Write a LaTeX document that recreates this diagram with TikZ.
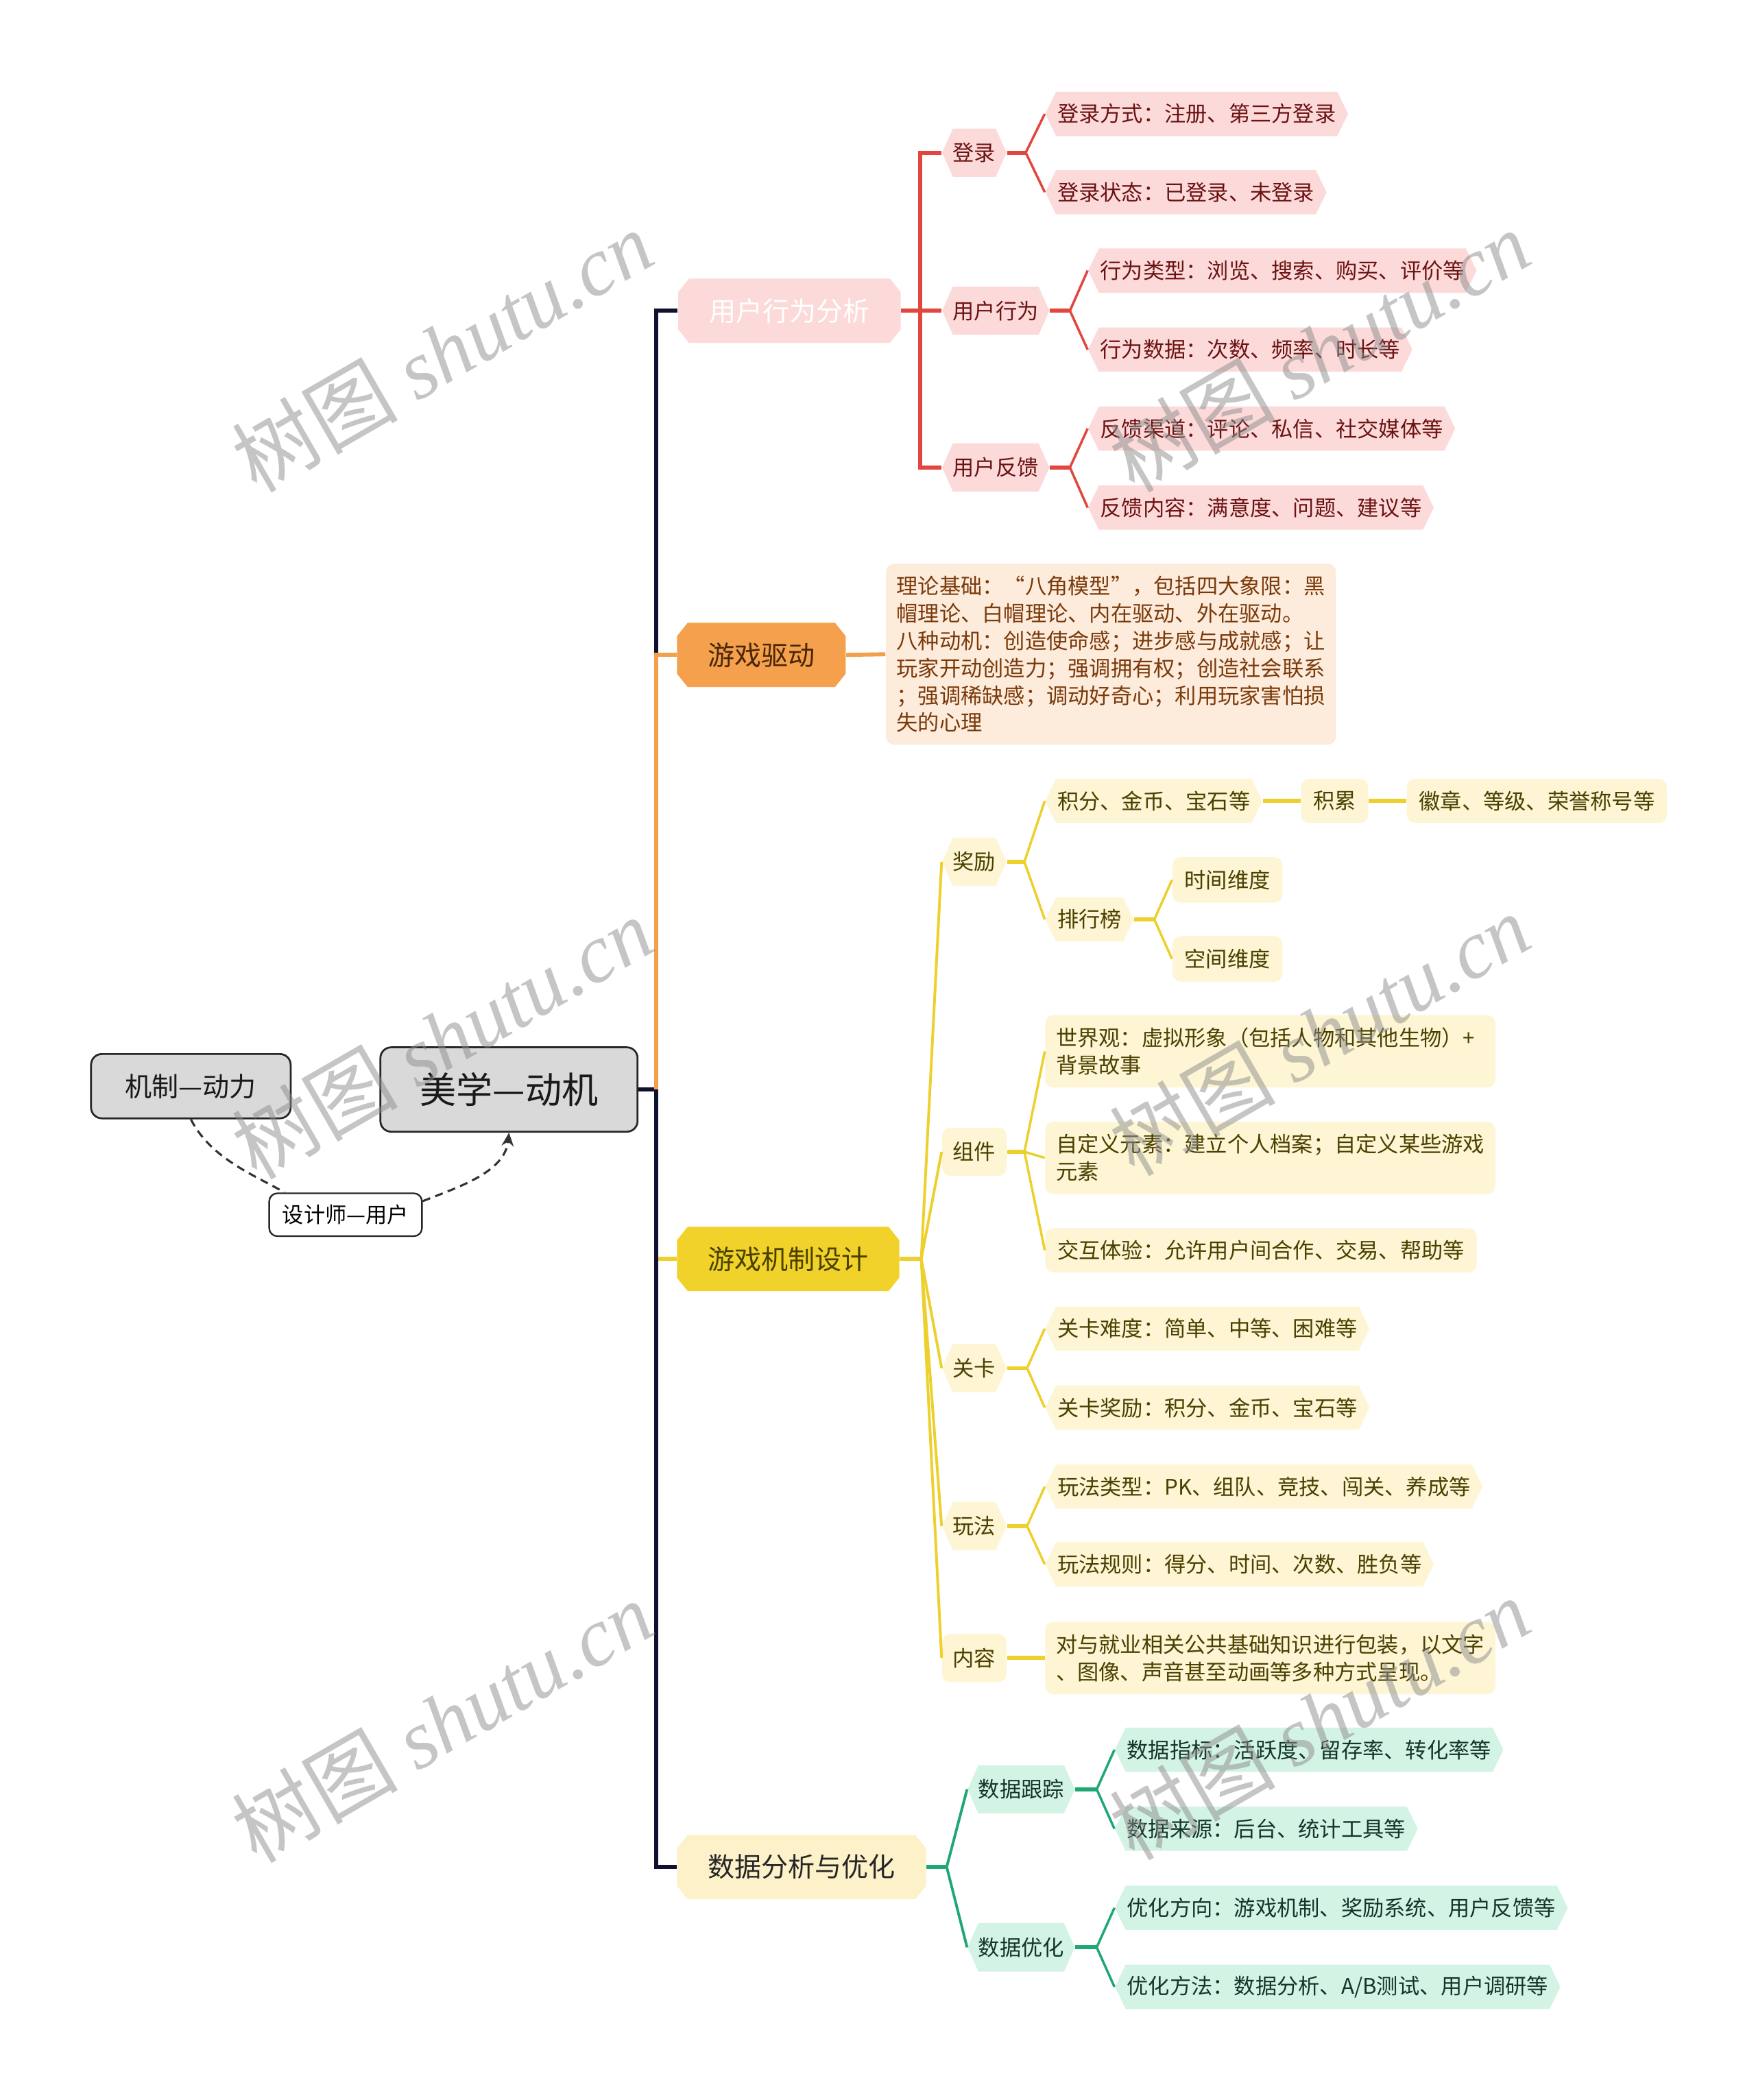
\documentclass[tikz,border=0pt]{standalone}
\usepackage{fontspec}
\setmainfont{Noto Sans CJK SC}
\newfontfamily\wmfont{Liberation Serif}
\usetikzlibrary{arrows.meta}
\definecolor{navy}{HTML}{10112E}
\definecolor{redL}{HTML}{E2473F}
\definecolor{redF}{HTML}{FCDADA}
\definecolor{redT}{HTML}{6B1212}
\definecolor{orL}{HTML}{F2A04B}
\definecolor{orF}{HTML}{F4A04C}
\definecolor{orB}{HTML}{FDEBDC}
\definecolor{orT}{HTML}{7A3A0A}
\definecolor{orTT}{HTML}{4A2608}
\definecolor{yeL}{HTML}{EDD02C}
\definecolor{yeF}{HTML}{F1D22A}
\definecolor{yeB}{HTML}{FDF5D4}
\definecolor{yeT}{HTML}{4A4000}
\definecolor{grL}{HTML}{1FA874}
\definecolor{grF}{HTML}{D3F3E5}
\definecolor{grT}{HTML}{14352A}
\definecolor{daF}{HTML}{FDF1C9}
\definecolor{rootF}{HTML}{D9D9D9}
\definecolor{dashC}{HTML}{333333}
\tikzset{
 hexfill/.style={path picture={\fill[#1] (path picture bounding box.west) -- ([xshift=4pt]path picture bounding box.north west) -- ([xshift=-4pt]path picture bounding box.north east) -- (path picture bounding box.east) -- ([xshift=-4pt]path picture bounding box.south east) -- ([xshift=4pt]path picture bounding box.south west) -- cycle;}},
 octfill/.style={path picture={\fill[#1] ([yshift=-5pt]path picture bounding box.north west) -- ([xshift=4pt]path picture bounding box.north west) -- ([xshift=-4pt]path picture bounding box.north east) -- ([yshift=-5pt]path picture bounding box.north east) -- ([yshift=5pt]path picture bounding box.south east) -- ([xshift=-4pt]path picture bounding box.south east) -- ([xshift=4pt]path picture bounding box.south west) -- ([yshift=5pt]path picture bounding box.south west) -- cycle;}},
 smallfont/.style={font=\fontsize{8pt}{10.2pt}\selectfont},
 leaf/.style={smallfont, inner ysep=0pt, inner xsep=4.5pt, minimum height=16.5pt, anchor=west},
 lvtwo/.style={smallfont, inner ysep=0pt, inner xsep=4pt, minimum height=18pt, anchor=west},
 lvone/.style={font=\fontsize{10pt}{12pt}\selectfont, inner ysep=0pt, inner xsep=11.5pt, minimum height=24pt, anchor=west},
 rndfill/.style={fill=#1, rounded corners=3pt},
 multi/.style={smallfont, inner xsep=4pt, inner ysep=0pt, text width=160pt, align=left, minimum height=27pt, anchor=west},
 rootbox/.style={draw=black!85, fill=rootF, rounded corners=4pt, line width=0.7pt, inner sep=0pt, text=black!90},
 stub/.style={line width=1.5pt},
 twig/.style={line width=0.9pt},
 dashline/.style={draw=dashC, dashed, dash pattern=on 3pt off 2pt, line width=0.8pt},
 wm/.style={rotate=30, text=black!45, text opacity=0.5, font=\fontsize{31pt}{34pt}\selectfont},
}
\begin{document}
\begin{tikzpicture}[x=0.5pt,y=-0.5pt]
\fill[white] (0,0) rectangle (1311,1568);
\useasboundingbox (0,0) rectangle (1311,1568);

% root and side
\node[rootbox, minimum width=96pt, minimum height=31.5pt, font=\fontsize{13.6pt}{16pt}\selectfont] (root) at (380,813.5) {美学—动机};
\node[rootbox, minimum width=74.5pt, minimum height=24pt, font=\fontsize{10pt}{12pt}\selectfont] (jz) at (142.5,811) {机制—动力};
\node[draw=black!85, fill=white, rounded corners=3pt, line width=0.6pt, inner sep=0pt, minimum width=57pt, minimum height=16pt, smallfont] (sj) at (258,907) {设计师—用户};

% level one
\node[lvone, octfill=redF, text=white] (ua) at (506,232) {用户行为分析};
\node[lvone, octfill=orF, text=orTT] (gd) at (505,489) {游戏驱动};
\node[lvone, octfill=yeF, text=yeT] (gm) at (505,940) {游戏机制设计};
\node[lvone, octfill=daF, text=black!85] (da) at (505,1394) {数据分析与优化};

% red branch
\node[lvtwo, hexfill=redF, text=redT] (dl) at (703,114) {登录};
\node[lvtwo, hexfill=redF, text=redT] (yx) at (703,232) {用户行为};
\node[lvtwo, hexfill=redF, text=redT] (fk) at (703,349) {用户反馈};
\node[leaf, hexfill=redF, text=redT] (dl1) at (780,85) {登录方式：注册、第三方登录};
\node[leaf, hexfill=redF, text=redT] (dl2) at (780,143.5) {登录状态：已登录、未登录};
\node[leaf, hexfill=redF, text=redT] (yx1) at (812,202) {行为类型：浏览、搜索、购买、评价等};
\node[leaf, hexfill=redF, text=redT] (yx2) at (812,261) {行为数据：次数、频率、时长等};
\node[leaf, hexfill=redF, text=redT] (fk1) at (812,320) {反馈渠道：评论、私信、社交媒体等};
\node[leaf, hexfill=redF, text=redT] (fk2) at (812,379) {反馈内容：满意度、问题、建议等};

% orange branch
\node[smallfont, rndfill=orB, text=orT, inner xsep=4pt, inner ysep=0pt, text width=160pt, align=left, minimum height=67.5pt, anchor=west] (gdt) at (661,488.5) {理论基础：“八角模型”，包括四大象限：黑\\帽理论、白帽理论、内在驱动、外在驱动。\\八种动机：创造使命感；进步感与成就感；让\\玩家开动创造力；强调拥有权；创造社会联系\\；强调稀缺感；调动好奇心；利用玩家害怕损\\失的心理};

% yellow branch
\node[lvtwo, hexfill=yeB, text=yeT] (jl) at (703,643.5) {奖励};
\node[leaf, hexfill=yeB, text=yeT] (jl1) at (780,598) {积分、金币、宝石等};
\node[leaf, rndfill=yeB, text=yeT] (jla) at (971,598) {积累};
\node[leaf, rndfill=yeB, text=yeT] (jlb) at (1050,598) {徽章、等级、荣誉称号等};
\node[leaf, hexfill=yeB, text=yeT] (ph) at (780,686.5) {排行榜};
\node[leaf, rndfill=yeB, text=yeT, minimum height=17pt] (ph1) at (875,657) {时间维度};
\node[leaf, rndfill=yeB, text=yeT, minimum height=17pt] (ph2) at (875,716) {空间维度};
\node[lvtwo, rndfill=yeB, text=yeT] (zj) at (703,860) {组件};
\node[multi, rndfill=yeB, text=yeT] (zj1) at (780,785) {世界观：虚拟形象（包括人物和其他生物）+\\背景故事};
\node[multi, rndfill=yeB, text=yeT] (zj2) at (780,864.5) {自定义元素：建立个人档案；自定义某些游戏\\元素};
\node[leaf, rndfill=yeB, text=yeT] (zj3) at (780,933.5) {交互体验：允许用户间合作、交易、帮助等};
\node[lvtwo, hexfill=yeB, text=yeT] (gk) at (703,1021.5) {关卡};
\node[leaf, hexfill=yeB, text=yeT] (gk1) at (780,992) {关卡难度：简单、中等、困难等};
\node[leaf, hexfill=yeB, text=yeT] (gk2) at (780,1051) {关卡奖励：积分、金币、宝石等};
\node[lvtwo, hexfill=yeB, text=yeT] (wf) at (703,1139.5) {玩法};
\node[leaf, hexfill=yeB, text=yeT] (wf1) at (780,1110) {玩法类型：PK、组队、竞技、闯关、养成等};
\node[leaf, hexfill=yeB, text=yeT] (wf2) at (780,1168) {玩法规则：得分、时间、次数、胜负等};
\node[lvtwo, rndfill=yeB, text=yeT] (nr) at (703,1238) {内容};
\node[multi, rndfill=yeB, text=yeT] (nr1) at (780,1238) {对与就业相关公共基础知识进行包装，以文字\\、图像、声音甚至动画等多种方式呈现。};

% green branch
\node[lvtwo, hexfill=grF, text=grT] (dt) at (722,1336) {数据跟踪};
\node[lvtwo, hexfill=grF, text=grT] (dy) at (722,1454) {数据优化};
\node[leaf, hexfill=grF, text=grT] (dt1) at (832,1306.5) {数据指标：活跃度、留存率、转化率等};
\node[leaf, hexfill=grF, text=grT] (dt2) at (832,1365.5) {数据来源：后台、统计工具等};
\node[leaf, hexfill=grF, text=grT] (dy1) at (832,1424.5) {优化方向：游戏机制、奖励系统、用户反馈等};
\node[leaf, hexfill=grF, text=grT] (dy2) at (832,1483.5) {优化方法：数据分析、A/B测试、用户调研等};

% trunk
\coordinate (tr) at (490,813.5);
\draw[yeL, stub] (tr) |- (gm.west);
\draw[navy, stub] (tr) |- (da.west);
\draw[navy, stub] (root.east) -- (tr);
\draw[navy, stub] (tr) |- (ua.west);
\draw[orL, stub] (tr) |- (gd.west);

% red connectors
\coordinate (rj) at (687,232);
\draw[redL, stub] (ua.east) -- (rj);
\draw[redL, stub] (rj) |- (dl.west);
\draw[redL, stub] (rj) |- (fk.west);
\draw[redL, stub] (rj) -- (yx.west);
\draw[redL, stub] (dl.east) -- ++(14,0) coordinate (dlj);
\draw[redL, twig] (dlj) -- (dl1.west);
\draw[redL, twig] (dlj) -- (dl2.west);
\draw[redL, stub] (yx.east) -- ++(15,0) coordinate (yxj);
\draw[redL, twig] (yxj) -- (yx1.west);
\draw[redL, twig] (yxj) -- (yx2.west);
\draw[redL, stub] (fk.east) -- ++(15,0) coordinate (fkj);
\draw[redL, twig] (fkj) -- (fk1.west);
\draw[redL, twig] (fkj) -- (fk2.west);

% orange connector
\draw[orL, stub] (gd.east) -- (gdt.west);

% yellow connectors
\draw[yeL, stub] (gm.east) -- ++(16,0) coordinate (gmj);
\foreach \n in {jl,zj,gk,wf,nr} \draw[yeL, line width=1pt] (gmj) -- (\n.west);
\draw[yeL, stub] (jl.east) -- ++(13,0) coordinate (jlj);
\draw[yeL, twig] (jlj) -- (jl1.west);
\draw[yeL, twig] (jlj) -- (ph.west);
\draw[yeL, stub] (jl1.east) -- (jla.west);
\draw[yeL, stub] (jla.east) -- (jlb.west);
\draw[yeL, stub] (ph.east) -- ++(15,0) coordinate (phj);
\draw[yeL, twig] (phj) -- (ph1.west);
\draw[yeL, twig] (phj) -- (ph2.west);
\draw[yeL, stub] (zj.east) -- ++(13,0) coordinate (zjj);
\draw[yeL, twig] (zjj) -- (zj1.west);
\draw[yeL, twig] (zjj) -- (zj2.west);
\draw[yeL, twig] (zjj) -- (zj3.west);
\draw[yeL, stub] (gk.east) -- ++(15,0) coordinate (gkj);
\draw[yeL, twig] (gkj) -- (gk1.west);
\draw[yeL, twig] (gkj) -- (gk2.west);
\draw[yeL, stub] (wf.east) -- ++(15,0) coordinate (wfj);
\draw[yeL, twig] (wfj) -- (wf1.west);
\draw[yeL, twig] (wfj) -- (wf2.west);
\draw[yeL, stub] (nr.east) -- (nr1.west);

% green connectors
\draw[grL, stub] (da.east) -- ++(15,0) coordinate (daj);
\draw[grL, line width=1pt] (daj) -- (dt.west);
\draw[grL, line width=1pt] (daj) -- (dy.west);
\draw[grL, stub] (dt.east) -- ++(16,0) coordinate (dtj);
\draw[grL, twig] (dtj) -- (dt1.west);
\draw[grL, twig] (dtj) -- (dt2.west);
\draw[grL, stub] (dy.east) -- ++(16,0) coordinate (dyj);
\draw[grL, twig] (dyj) -- (dy1.west);
\draw[grL, twig] (dyj) -- (dy2.west);

% dashed relation
\draw[dashline] (jz.south) .. controls +(15,30) and +(-20,-12) .. (sj.160);
\draw[dashline, -{Stealth[length=5pt,width=4.5pt]}] (sj.10) .. controls +(25,-10) and +(-3,30) .. (root.south);

% watermarks
\foreach \px/\py in {330/262, 985/262, 330/775, 985/772, 330/1285, 985/1283}
  \node[wm] at (\px,\py) {树图 {\wmfont\itshape shutu.cn}};
\end{tikzpicture}
\end{document}
